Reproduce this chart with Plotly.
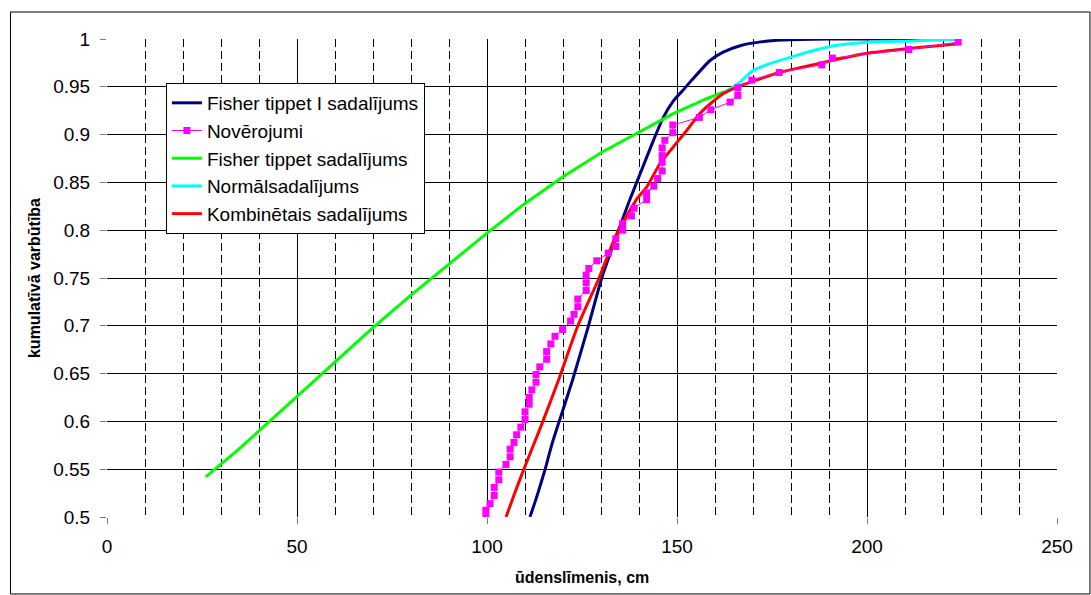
import plotly.graph_objects as go

# ---- data ----
navy_x = [111.3, 113.0, 115.3, 117.0, 119.0, 122.5, 126.7, 130.2, 134.6, 137.5, 140.3, 143.8, 146.4, 149.0, 151.7, 153.9, 158.7, 162.0, 166.6, 172.0, 178.0, 190.0, 200.0, 212.0, 224.0]
navy_y = [0.5, 0.52, 0.55, 0.575, 0.6, 0.643, 0.70, 0.75, 0.80, 0.831, 0.859, 0.894, 0.918, 0.935, 0.947, 0.957, 0.9775, 0.986, 0.993, 0.997, 0.999, 1.0, 1.0, 1.0, 1.0]

obs_x = [99.7, 99.7, 100.8, 101.9, 101.9, 103.1, 103.1, 105.0, 106.1, 106.1, 107.1, 107.8, 108.9, 110.0, 110.0, 111.1,
         111.1, 111.8, 112.9, 112.9, 113.9, 115.7, 115.7, 116.8, 117.9, 119.9, 122.0, 122.9, 123.9, 123.9, 126.1, 126.1,
         126.1, 126.8, 128.9, 131.9, 133.9, 133.9, 135.7, 135.7, 138.0, 138.7, 142.0, 142.0, 143.9, 144.9, 146.1, 146.1,
         146.1, 146.1, 146.8, 148.9, 148.9, 155.9, 158.9, 164.0, 166.0, 166.0, 169.7, 176.9, 188.1, 190.9, 211.0, 224.0]
obs_y = [0.5, 0.507, 0.514, 0.5225, 0.531, 0.539, 0.547, 0.555, 0.563, 0.571, 0.578, 0.586, 0.594, 0.602, 0.61, 0.618,
         0.625, 0.633, 0.641, 0.649, 0.657, 0.665, 0.673, 0.681, 0.689, 0.696, 0.705, 0.712, 0.72, 0.728, 0.737, 0.745,
         0.753, 0.76, 0.768, 0.776, 0.783, 0.791, 0.80, 0.807, 0.815, 0.823, 0.832, 0.839, 0.846, 0.854, 0.862, 0.871,
         0.878, 0.886, 0.894, 0.902, 0.91, 0.918, 0.926, 0.934, 0.941, 0.949, 0.957, 0.965, 0.973, 0.98, 0.989, 0.9967]

green_x = [26.0, 30.0, 35.0, 40.0, 45.0, 50.0, 60.0, 70.0, 80.0, 90.0, 100.0, 110.0, 120.0, 130.0, 140.0, 149.0, 157.8, 162.5]
green_y = [0.542, 0.555, 0.572, 0.590, 0.608, 0.625, 0.661, 0.698, 0.732, 0.765, 0.797, 0.828, 0.856, 0.881, 0.903, 0.922, 0.9375, 0.945]

cyan_x = [162.2, 166.0, 170.0, 175.0, 180.0, 185.0, 190.0, 200.0, 212.0, 224.5]
cyan_y = [0.944, 0.953, 0.967, 0.975, 0.981, 0.987, 0.992, 0.9965, 0.998, 1.0]

red_x = [105.0, 107.3, 109.7, 112.2, 114.7, 118.8, 123.9, 129.5, 134.0, 139.5, 142.0, 145.5, 149.0, 152.5, 156.0, 158.7, 162.2, 166.6, 170.0, 177.0, 182.4, 188.0, 200.0, 211.0, 224.0]
red_y = [0.5, 0.525, 0.55, 0.575, 0.6, 0.643, 0.70, 0.75, 0.795, 0.833, 0.845, 0.8695, 0.887, 0.904, 0.922, 0.932, 0.943, 0.951, 0.956, 0.965, 0.970, 0.975, 0.985, 0.99, 0.995]

x_ticks = [0, 50, 100, 150, 200, 250]
y_ticks = [0.5, 0.55, 0.6, 0.65, 0.7, 0.75, 0.8, 0.85, 0.9, 0.95, 1.0]

FONT = "Liberation Sans, Arial, sans-serif"

fig = go.Figure()
fig.add_trace(go.Scatter(x=navy_x, y=navy_y, mode="lines", name="Fisher tippet I sadalījums",
                         line=dict(color="#000080", width=3, shape="spline", smoothing=0.6)))
fig.add_trace(go.Scatter(x=obs_x, y=obs_y, mode="lines+markers", name="Novērojumi",
                         line=dict(color="#FF00FF", width=1),
                         marker=dict(symbol="square", size=7, color="#FF00FF"), zorder=2))
fig.add_trace(go.Scatter(x=green_x, y=green_y, mode="lines", name="Fisher tippet sadalījums",
                         line=dict(color="#00FF00", width=3)))
fig.add_trace(go.Scatter(x=cyan_x, y=cyan_y, mode="lines", name="Normālsadalījums",
                         line=dict(color="#00FFFF", width=3, shape="spline", smoothing=0.6)))
fig.add_trace(go.Scatter(x=red_x, y=red_y, mode="lines", name="Kombinētais sadalījums",
                         line=dict(color="#FF0000", width=3, shape="spline", smoothing=0.6), zorder=1))

fig.update_layout(
    width=1091, height=595,
    margin=dict(l=107, r=34, t=39, b=78),
    paper_bgcolor="white", plot_bgcolor="white",
    font=dict(family=FONT, size=19, color="black"),
    showlegend=True,
    legend=dict(x=0.062, y=0.908, xanchor="left", yanchor="top",
                bgcolor="white", bordercolor="black", borderwidth=1,
                font=dict(family=FONT, size=19, color="black"),
                traceorder="normal"),
    xaxis=dict(range=[0, 250], tickvals=x_ticks, ticks="outside", ticklen=6, tickcolor="#808080",
               ticklabelstandoff=6,
               showgrid=True, gridcolor="black", gridwidth=1,
               showline=True, linecolor="#808080", linewidth=1, mirror=True,
               zeroline=False, tickfont=dict(size=19, color="black"),
               minor=dict(dtick=10, tick0=0, showgrid=True, gridcolor="black",
                          griddash="8px,4px", gridwidth=1, ticks="")),
    yaxis=dict(range=[0.5, 1.0], tickvals=y_ticks, ticktext=[f"{v:g}" for v in y_ticks],
               ticks="outside", ticklen=6, tickcolor="#808080", ticklabelstandoff=6,
               showgrid=True, gridcolor="black", gridwidth=1,
               showline=True, linecolor="#808080", linewidth=1, mirror=True,
               zeroline=False, tickfont=dict(size=19, color="black")),
    annotations=[
        dict(text="<b>ūdenslīmenis, cm</b>", xref="paper", yref="paper", x=0.5, y=-0.1276,
             xanchor="center", yanchor="middle", showarrow=False, font=dict(size=16, family=FONT)),
        dict(text="<b>kumulatīvā varbūtība</b>", xref="paper", yref="paper", x=-0.0768, y=0.5,
             xanchor="center", yanchor="middle", textangle=-90, showarrow=False,
             font=dict(size=16, family=FONT)),
    ],
    shapes=[
        dict(type="rect", xref="paper", yref="paper", x0=-0.1016, x1=1.0347, y0=-0.161, y1=1.0565,
             line=dict(color="black", width=1), fillcolor="rgba(0,0,0,0)", layer="below"),
    ],
)

fig.write_html("out.html")
